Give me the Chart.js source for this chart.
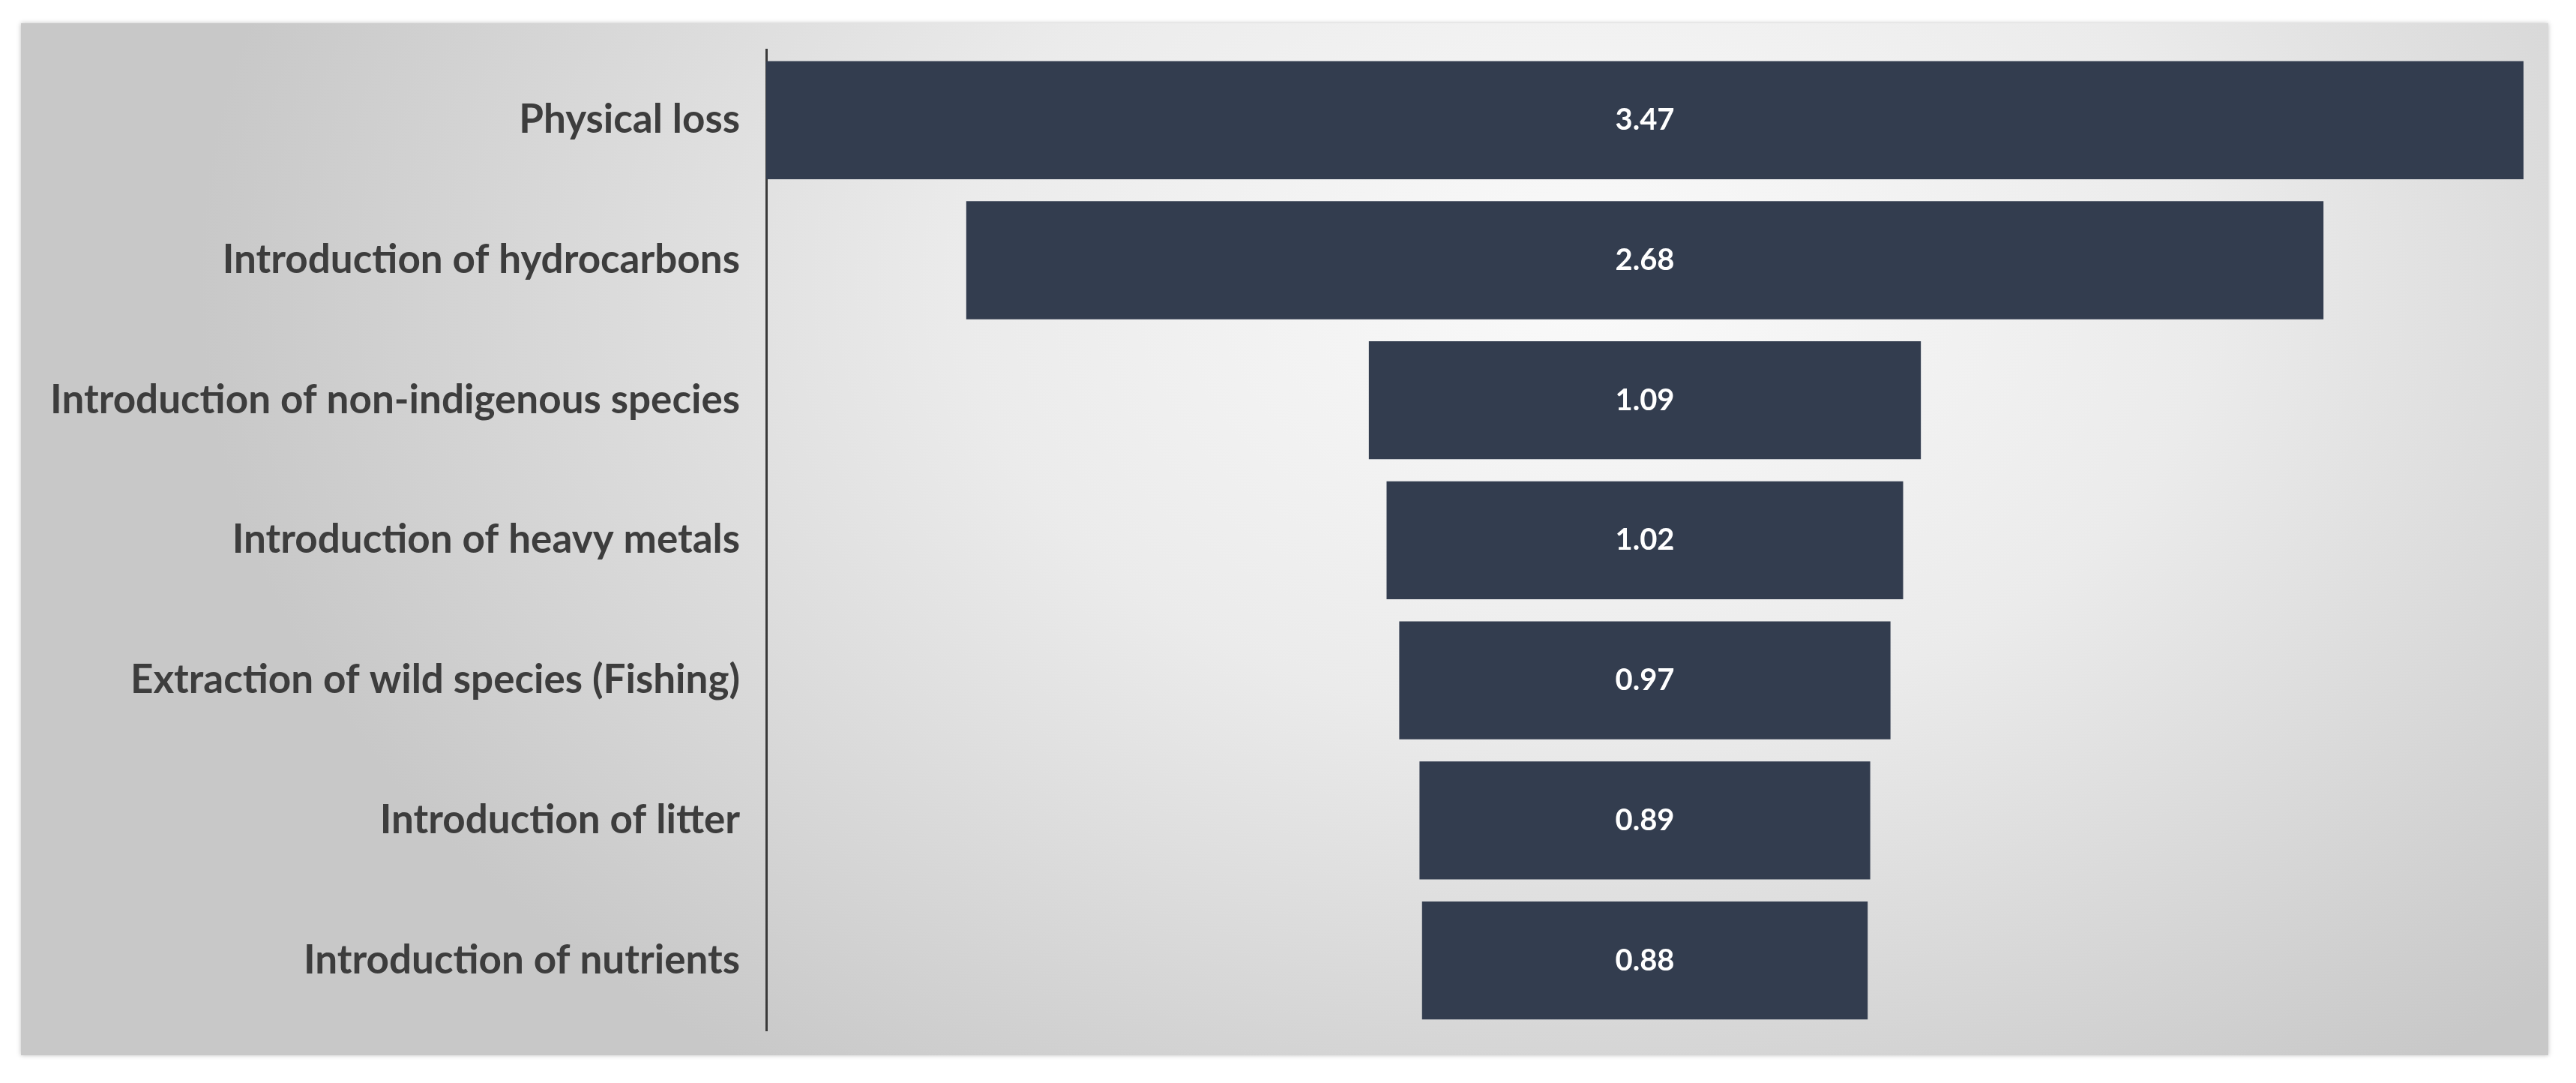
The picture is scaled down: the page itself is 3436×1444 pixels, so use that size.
<!DOCTYPE html>
<html>
<head>
<meta charset="utf-8">
<script src="https://cdn.jsdelivr.net/npm/chart.js@4.4.1/dist/chart.umd.min.js"></script>
<style>
  html, body { margin: 0; padding: 0; background: #fff; }
  #panel {
    position: absolute; left: 28px; top: 31px; width: 3371px; height: 1376px;
    background: radial-gradient(ellipse 55% 95% at 62% 25%, #fafafa 0%, #ebebeb 45%, #c8c8c8 100%);
    box-shadow: 0 0 6px rgba(0,0,0,0.25);
  }
  #wrap { position: absolute; left: 0; top: 0; width: 3436px; height: 1444px; }
</style>
</head>
<body>
<div id="panel"></div>
<div id="wrap"><canvas id="myChart"></canvas></div>
<script>
const pressures = [
  'Physical loss',
  'Introduction of hydrocarbons',
  'Introduction of non-indigenous species',
  'Introduction of heavy metals',
  'Extraction of wild species (Fishing)',
  'Introduction of litter',
  'Introduction of nutrients'
];
const scores = [3.47, 2.68, 1.09, 1.02, 0.97, 0.89, 0.88];

// funnel: each bar centred on half of the largest value
const maxScore = Math.max(...scores);
const mid = maxScore / 2;
const funnel = scores.map(v => [mid - v / 2, mid + v / 2]);

const valueLabels = {
  id: 'valueLabels',
  afterDatasetsDraw(chart) {
    const ctx = chart.ctx;
    const meta = chart.getDatasetMeta(0);
    ctx.save();
    ctx.fillStyle = '#ffffff';
    ctx.font = 'bold 40px Lato';
    ctx.textAlign = 'center';
    ctx.textBaseline = 'middle';
    meta.data.forEach((bar, i) => {
      const p = bar.getCenterPoint();
      ctx.fillText(scores[i].toFixed(2), p.x, p.y);
    });
    ctx.restore();
  }
};

document.addEventListener('DOMContentLoaded', function() {
  var ctx = document.getElementById('myChart').getContext('2d');
  new Chart(ctx, {
    type: 'bar',
    data: {
      labels: pressures,
      datasets: [{
        data: funnel,
        backgroundColor: '#333d4f',
        borderWidth: 0,
        categoryPercentage: 1,
        barPercentage: 0.843
      }]
    },
    options: {
      indexAxis: 'y',
      responsive: true,
      maintainAspectRatio: false,
      animation: false,
      layout: { padding: { top: 62, bottom: 70, right: 70, left: 0 } },
      plugins: { legend: { display: false }, tooltip: { enabled: false } },
      scales: {
        x: { display: false, min: 0, max: maxScore },
        y: {
          grid: { display: false, drawTicks: false },
          border: { display: true, color: '#3a3a3a', width: 3 },
          ticks: {
            color: '#3d3d3d',
            padding: 35,
            font: { family: 'Lato', weight: 'bold', size: 53 }
          },
          afterFit: function(scale) { scale.width = 1022; }
        }
      }
    },
    plugins: [valueLabels]
  });
});
</script>
</body>
</html>
